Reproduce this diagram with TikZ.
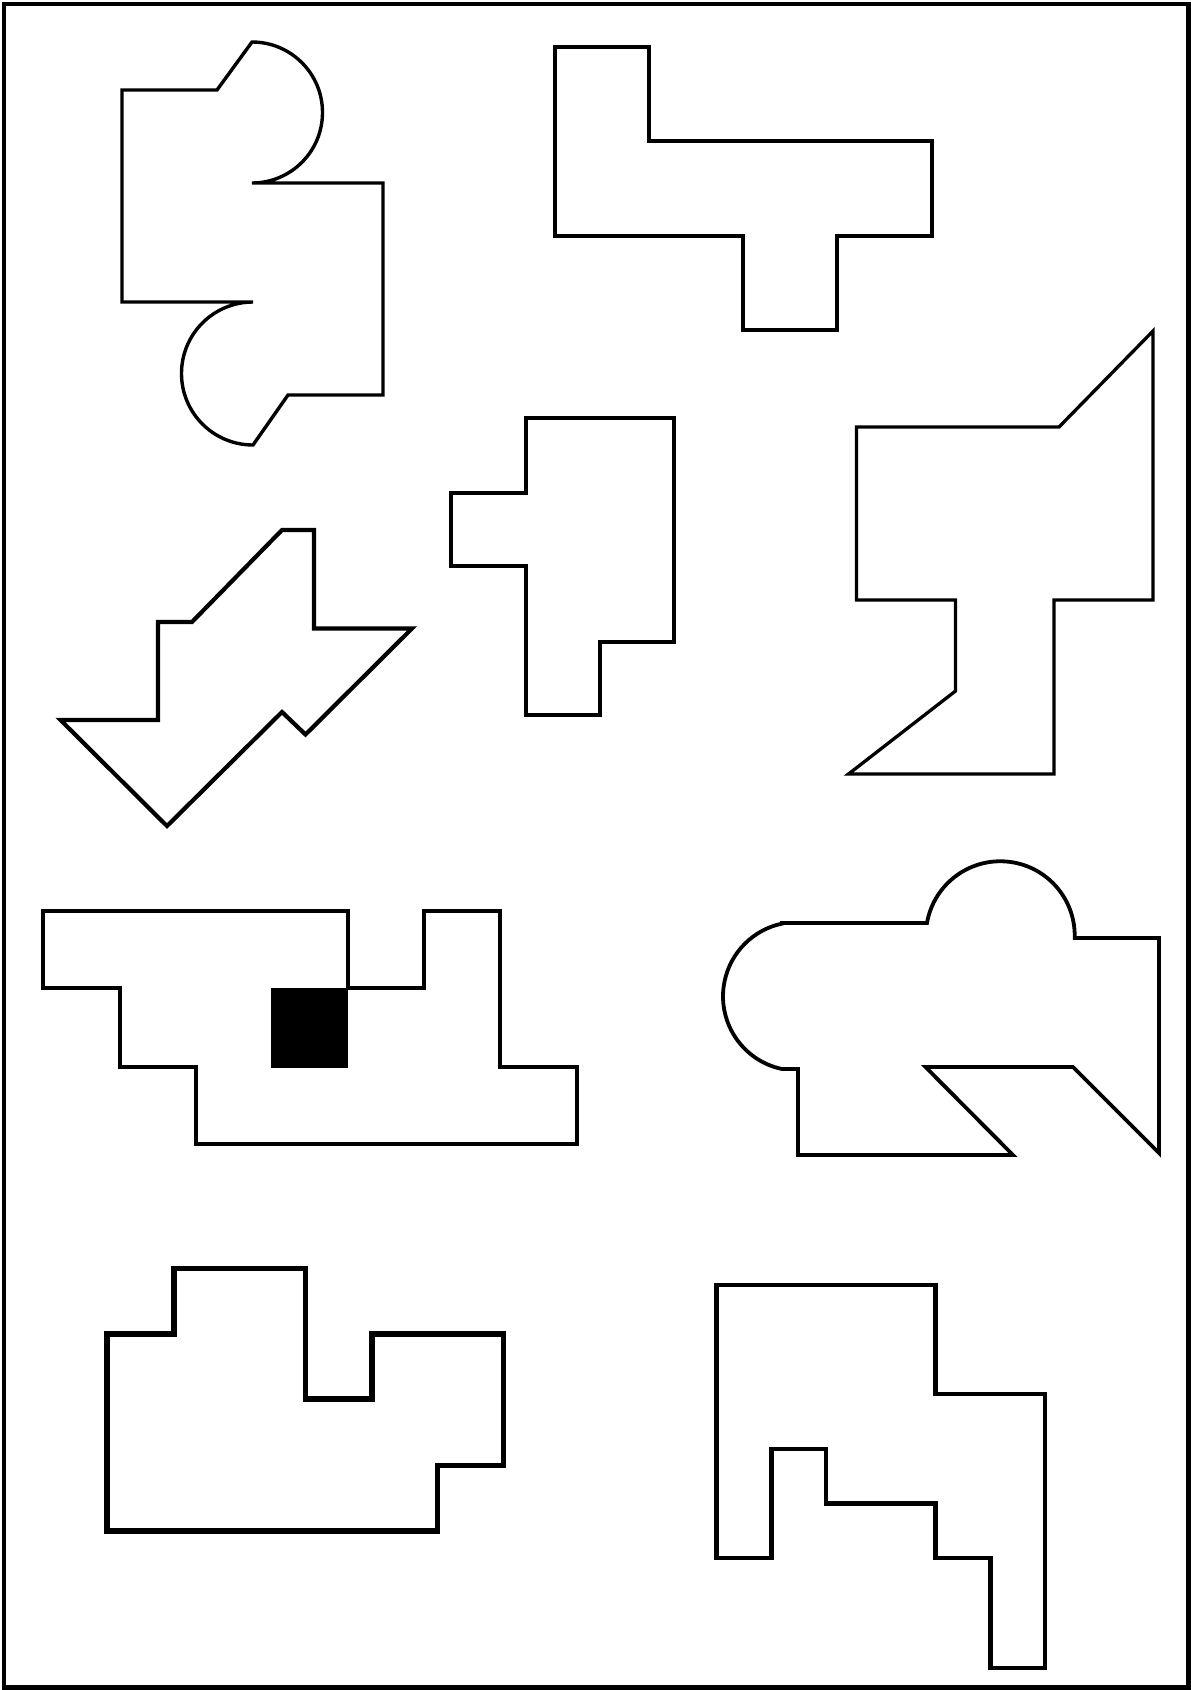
\documentclass[tikz,border=0pt]{standalone}
\begin{document}
\begin{tikzpicture}[x=1pt,y=-1pt, shp/.style={draw=black, line join=miter}]
\useasboundingbox (0,0) rectangle (1191,1690);
\draw[line width=4.5pt] (4,4) rectangle (1188.5,1687.5);
% shape 1
\draw[shp, line width=3.4pt] (122,90) -- (217,90) -- (252,42) arc[start angle=-90, end angle=90, radius=70.5] -- (383,183) -- (383,395) -- (288,395) -- (253,445) arc[start angle=90, end angle=270, radius=71.5] -- (122,302) -- cycle;
% shape 2
\draw[shp, line width=4pt] (555,47) -- (649,47) -- (649,141) -- (932,141) -- (932,236) -- (837,236) -- (837,330) -- (743,330) -- (743,236) -- (555,236) -- cycle;
% shape 3
\draw[shp, line width=4.2pt] (282,530) -- (314,530) -- (314,628.5) -- (412,628.5) -- (305.5,734.5) -- (282,712) -- (167,826) -- (60.5,720) -- (158,720) -- (158,622) -- (192,622) -- cycle;
% shape 4
\draw[shp, line width=4.2pt] (526,418) -- (674,418) -- (674,642) -- (600,642) -- (600,715) -- (526,715) -- (526,566) -- (451,566) -- (451,493) -- (526,493) -- cycle;
% shape 5
\draw[shp, line width=3.3pt] (1153,331) -- (1153,600) -- (1054,600) -- (1054,774) -- (848.5,774) -- (955.5,691) -- (955.5,600) -- (856.5,600) -- (856.5,427) -- (1059,427) -- cycle;
% shape 6
\draw[shp, line width=3.3pt] (43,911) -- (348,911) -- (348,988) -- (424,988) -- (424,911) -- (500,911) -- (500,1067) -- (577,1067) -- (577,1144) -- (196,1144) -- (196,1067) -- (120,1067) -- (120,988) -- (43,988) -- cycle;
\fill (270.5,988) rectangle (348,1068);
% shape 7
\draw[shp, line width=3.8pt] (782,923) -- (927,923) arc[start angle=189.8, end angle=360, radius=74.4] -- (1074.7,938) -- (1159,938) -- (1159,1153) -- (1073,1067) -- (925.5,1067) -- (1013,1155) -- (798,1155) -- (798,1069) -- (782,1069) arc[start angle=101.9, end angle=258.1, radius=74.3] -- cycle;
% shape 8
\draw[shp, line width=5.2pt] (107,1334) -- (174,1334) -- (174,1268.5) -- (305.5,1268.5) -- (305.5,1399) -- (372,1399) -- (372,1334) -- (503.5,1334) -- (503.5,1465.5) -- (437.5,1465.5) -- (437.5,1531) -- (107,1531) -- cycle;
% shape 9
\draw[shp, line width=4.2pt] (716.5,1285) -- (935.5,1285) -- (935.5,1394) -- (1045,1394) -- (1045,1668) -- (990.5,1668) -- (990.5,1558) -- (935.5,1558) -- (935.5,1503.5) -- (826,1503.5) -- (826,1449) -- (771.5,1449) -- (771.5,1558) -- (716.5,1558) -- cycle;
\end{tikzpicture}
\end{document}
